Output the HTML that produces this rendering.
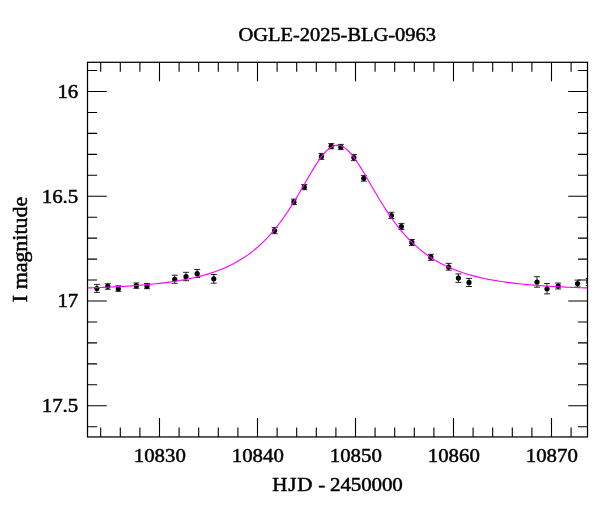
<!DOCTYPE html>
<html lang="en"><head><meta charset="utf-8"><title>OGLE-2025-BLG-0963</title>
<style>html,body{margin:0;padding:0;background:#fff;}body{width:600px;height:512px;overflow:hidden;}svg{display:block;}text{font-family:"Liberation Serif","DejaVu Serif",serif;font-size:20.3px;fill:#000;stroke:#000;stroke-width:0.5;}</style></head><body>
<svg width="600" height="512" viewBox="0 0 600 512">
<rect x="0" y="0" width="600" height="512" fill="#fff"/>
<defs><clipPath id="pc"><rect x="87.5" y="62.3" width="500" height="374.65"/></clipPath></defs>
<g clip-path="url(#pc)" stroke="#000" stroke-width="0.85" fill="#000"><path d="M96.90 284.40V292.40M93.90 284.40H99.90M93.90 292.40H99.90" fill="none"/><circle cx="96.90" cy="288.50" r="2.6" stroke="none"/><path d="M107.80 283.70V289.30M104.80 283.70H110.80M104.80 289.30H110.80" fill="none"/><circle cx="107.80" cy="286.30" r="2.6" stroke="none"/><path d="M118.30 285.80V291.30M115.30 285.80H121.30M115.30 291.30H121.30" fill="none"/><circle cx="118.30" cy="288.80" r="2.6" stroke="none"/><path d="M136.30 283.00V288.30M133.30 283.00H139.30M133.30 288.30H139.30" fill="none"/><circle cx="136.30" cy="285.70" r="2.6" stroke="none"/><path d="M147.00 283.50V288.70M144.00 283.50H150.00M144.00 288.70H150.00" fill="none"/><circle cx="147.00" cy="286.20" r="2.6" stroke="none"/><path d="M174.70 275.20V283.30M171.70 275.20H177.70M171.70 283.30H177.70" fill="none"/><circle cx="174.70" cy="279.30" r="2.6" stroke="none"/><path d="M186.00 272.30V280.70M183.00 272.30H189.00M183.00 280.70H189.00" fill="none"/><circle cx="186.00" cy="276.70" r="2.6" stroke="none"/><path d="M197.20 269.50V277.50M194.20 269.50H200.20M194.20 277.50H200.20" fill="none"/><circle cx="197.20" cy="273.70" r="2.6" stroke="none"/><path d="M213.80 274.50V283.20M210.80 274.50H216.80M210.80 283.20H216.80" fill="none"/><circle cx="213.80" cy="278.80" r="2.6" stroke="none"/><path d="M274.60 227.50V233.70M271.60 227.50H277.60M271.60 233.70H277.60" fill="none"/><circle cx="274.60" cy="230.60" r="2.6" stroke="none"/><path d="M293.90 199.10V204.60M290.90 199.10H296.90M290.90 204.60H296.90" fill="none"/><circle cx="293.90" cy="201.90" r="2.6" stroke="none"/><path d="M304.30 184.50V189.70M301.30 184.50H307.30M301.30 189.70H307.30" fill="none"/><circle cx="304.30" cy="187.00" r="2.6" stroke="none"/><path d="M321.40 153.40V159.40M318.40 153.40H324.40M318.40 159.40H324.40" fill="none"/><circle cx="321.40" cy="156.40" r="2.6" stroke="none"/><path d="M331.20 143.60V148.80M328.20 143.60H334.20M328.20 148.80H334.20" fill="none"/><circle cx="331.20" cy="146.20" r="2.6" stroke="none"/><path d="M340.80 144.40V149.60M337.80 144.40H343.80M337.80 149.60H343.80" fill="none"/><circle cx="340.80" cy="147.00" r="2.6" stroke="none"/><path d="M353.90 154.40V160.60M350.90 154.40H356.90M350.90 160.60H356.90" fill="none"/><circle cx="353.90" cy="157.50" r="2.6" stroke="none"/><path d="M363.80 175.40V181.20M360.80 175.40H366.80M360.80 181.20H366.80" fill="none"/><circle cx="363.80" cy="178.30" r="2.6" stroke="none"/><path d="M391.40 212.30V218.50M388.40 212.30H394.40M388.40 218.50H394.40" fill="none"/><circle cx="391.40" cy="215.50" r="2.6" stroke="none"/><path d="M401.40 223.40V229.50M398.40 223.40H404.40M398.40 229.50H404.40" fill="none"/><circle cx="401.40" cy="226.50" r="2.6" stroke="none"/><path d="M411.90 239.50V245.50M408.90 239.50H414.90M408.90 245.50H414.90" fill="none"/><circle cx="411.90" cy="242.40" r="2.6" stroke="none"/><path d="M430.90 254.30V260.30M427.90 254.30H433.90M427.90 260.30H433.90" fill="none"/><circle cx="430.90" cy="257.20" r="2.6" stroke="none"/><path d="M448.70 263.40V270.20M445.70 263.40H451.70M445.70 270.20H451.70" fill="none"/><circle cx="448.70" cy="267.00" r="2.6" stroke="none"/><path d="M458.40 273.90V282.40M455.40 273.90H461.40M455.40 282.40H461.40" fill="none"/><circle cx="458.40" cy="278.10" r="2.6" stroke="none"/><path d="M469.00 278.40V286.50M466.00 278.40H472.00M466.00 286.50H472.00" fill="none"/><circle cx="469.00" cy="282.40" r="2.6" stroke="none"/><path d="M537.00 276.70V287.20M534.00 276.70H540.00M534.00 287.20H540.00" fill="none"/><circle cx="537.00" cy="282.00" r="2.6" stroke="none"/><path d="M547.00 283.50V293.90M544.00 283.50H550.00M544.00 293.90H550.00" fill="none"/><circle cx="547.00" cy="288.75" r="2.6" stroke="none"/><path d="M558.20 283.10V289.00M555.20 283.10H561.20M555.20 289.00H561.20" fill="none"/><circle cx="558.20" cy="286.10" r="2.6" stroke="none"/><path d="M577.60 280.10V287.00M574.60 280.10H580.60M574.60 287.00H580.60" fill="none"/><circle cx="577.60" cy="283.50" r="2.6" stroke="none"/><path d="M588.70 278.50V285.50M585.70 278.50H591.70M585.70 285.50H591.70" fill="none"/><circle cx="588.70" cy="282.00" r="2.6" stroke="none"/></g>
<path d="M87.5 287.96 L89.5 287.89 L91.5 287.82 L93.5 287.75 L95.5 287.68 L97.5 287.60 L99.5 287.53 L101.5 287.45 L103.5 287.36 L105.5 287.28 L107.5 287.19 L109.5 287.10 L111.5 287.00 L113.5 286.91 L115.5 286.80 L117.5 286.70 L119.5 286.59 L121.5 286.48 L123.5 286.36 L125.5 286.24 L127.5 286.11 L129.5 285.99 L131.5 285.85 L133.5 285.71 L135.5 285.57 L137.5 285.42 L139.5 285.26 L141.5 285.10 L143.5 284.94 L145.5 284.76 L147.5 284.58 L149.5 284.40 L151.5 284.20 L153.5 284.00 L155.5 283.79 L157.5 283.58 L159.5 283.35 L161.5 283.12 L163.5 282.87 L165.5 282.62 L167.5 282.36 L169.5 282.09 L171.5 281.80 L173.5 281.51 L175.5 281.20 L177.5 280.88 L179.5 280.55 L181.5 280.20 L183.5 279.84 L185.5 279.46 L187.5 279.07 L189.5 278.67 L191.5 278.24 L193.5 277.80 L195.5 277.34 L197.5 276.86 L199.5 276.36 L201.5 275.84 L203.5 275.30 L205.5 274.73 L207.5 274.14 L209.5 273.52 L211.5 272.88 L213.5 272.21 L215.5 271.51 L217.5 270.78 L219.5 270.02 L221.5 269.23 L223.5 268.40 L225.5 267.53 L227.5 266.63 L229.5 265.69 L231.5 264.71 L233.5 263.68 L235.5 262.61 L237.5 261.49 L239.5 260.32 L241.5 259.10 L243.5 257.83 L245.5 256.51 L247.5 255.12 L249.5 253.68 L251.5 252.17 L253.5 250.60 L255.5 248.96 L257.5 247.26 L259.5 245.48 L261.5 243.62 L263.5 241.70 L265.5 239.69 L267.5 237.60 L269.5 235.43 L271.5 233.17 L273.5 230.83 L275.5 228.40 L277.5 225.88 L279.5 223.27 L281.5 220.57 L283.5 217.78 L285.5 214.91 L287.5 211.94 L289.5 208.89 L291.5 205.77 L293.5 202.56 L295.5 199.29 L297.5 195.95 L299.5 192.57 L301.5 189.14 L303.5 185.68 L305.5 182.21 L307.5 178.74 L309.5 175.30 L311.5 171.91 L313.5 168.59 L315.5 165.37 L317.5 162.29 L319.5 159.36 L321.5 156.62 L323.5 154.11 L325.5 151.85 L327.5 149.89 L329.5 148.24 L331.5 146.93 L333.5 145.99 L335.5 145.42 L337.5 145.24 L339.5 145.45 L341.5 146.05 L343.5 147.02 L345.5 148.36 L347.5 150.03 L349.5 152.02 L351.5 154.30 L353.5 156.83 L355.5 159.58 L357.5 162.53 L359.5 165.63 L361.5 168.86 L363.5 172.18 L365.5 175.58 L367.5 179.02 L369.5 182.49 L371.5 185.96 L373.5 189.41 L375.5 192.84 L377.5 196.22 L379.5 199.55 L381.5 202.82 L383.5 206.02 L385.5 209.14 L387.5 212.18 L389.5 215.14 L391.5 218.01 L393.5 220.79 L395.5 223.48 L397.5 226.08 L399.5 228.60 L401.5 231.02 L403.5 233.36 L405.5 235.60 L407.5 237.77 L409.5 239.85 L411.5 241.85 L413.5 243.78 L415.5 245.62 L417.5 247.39 L419.5 249.10 L421.5 250.73 L423.5 252.29 L425.5 253.79 L427.5 255.23 L429.5 256.61 L431.5 257.94 L433.5 259.20 L435.5 260.42 L437.5 261.58 L439.5 262.69 L441.5 263.76 L443.5 264.79 L445.5 265.77 L447.5 266.70 L449.5 267.60 L451.5 268.47 L453.5 269.29 L455.5 270.08 L457.5 270.84 L459.5 271.57 L461.5 272.27 L463.5 272.93 L465.5 273.57 L467.5 274.19 L469.5 274.78 L471.5 275.34 L473.5 275.88 L475.5 276.40 L477.5 276.90 L479.5 277.38 L481.5 277.84 L483.5 278.28 L485.5 278.70 L487.5 279.11 L489.5 279.49 L491.5 279.87 L493.5 280.23 L495.5 280.57 L497.5 280.90 L499.5 281.22 L501.5 281.53 L503.5 281.82 L505.5 282.11 L507.5 282.38 L509.5 282.64 L511.5 282.89 L513.5 283.14 L515.5 283.37 L517.5 283.59 L519.5 283.81 L521.5 284.02 L523.5 284.22 L525.5 284.41 L527.5 284.60 L529.5 284.78 L531.5 284.95 L533.5 285.12 L535.5 285.28 L537.5 285.43 L539.5 285.58 L541.5 285.72 L543.5 285.86 L545.5 286.00 L547.5 286.12 L549.5 286.25 L551.5 286.37 L553.5 286.49 L555.5 286.60 L557.5 286.71 L559.5 286.81 L561.5 286.91 L563.5 287.01 L565.5 287.11 L567.5 287.20 L569.5 287.29 L571.5 287.37 L573.5 287.45 L575.5 287.53 L577.5 287.61 L579.5 287.69 L581.5 287.76 L583.5 287.83 L585.5 287.90 L587.5 287.96" fill="none" stroke="#ff00ff" stroke-width="1.12" stroke-linejoin="round"/>
<path d="M100.70 436.95v-9.50M100.70 62.30v9.50M120.30 436.95v-9.50M120.30 62.30v9.50M139.90 436.95v-9.50M139.90 62.30v9.50M159.50 436.95v-18.95M159.50 62.30v18.95M179.10 436.95v-9.50M179.10 62.30v9.50M198.70 436.95v-9.50M198.70 62.30v9.50M218.30 436.95v-9.50M218.30 62.30v9.50M237.90 436.95v-9.50M237.90 62.30v9.50M257.50 436.95v-18.95M257.50 62.30v18.95M277.10 436.95v-9.50M277.10 62.30v9.50M296.70 436.95v-9.50M296.70 62.30v9.50M316.30 436.95v-9.50M316.30 62.30v9.50M335.90 436.95v-9.50M335.90 62.30v9.50M355.50 436.95v-18.95M355.50 62.30v18.95M375.10 436.95v-9.50M375.10 62.30v9.50M394.70 436.95v-9.50M394.70 62.30v9.50M414.30 436.95v-9.50M414.30 62.30v9.50M433.90 436.95v-9.50M433.90 62.30v9.50M453.50 436.95v-18.95M453.50 62.30v18.95M473.10 436.95v-9.50M473.10 62.30v9.50M492.70 436.95v-9.50M492.70 62.30v9.50M512.30 436.95v-9.50M512.30 62.30v9.50M531.90 436.95v-9.50M531.90 62.30v9.50M551.50 436.95v-18.95M551.50 62.30v18.95M571.10 436.95v-9.50M571.10 62.30v9.50M87.50 70.55h9.60M587.50 70.55h-9.60M87.50 91.50h19.30M587.50 91.50h-19.30M87.50 112.45h9.60M587.50 112.45h-9.60M87.50 133.40h9.60M587.50 133.40h-9.60M87.50 154.35h9.60M587.50 154.35h-9.60M87.50 175.30h9.60M587.50 175.30h-9.60M87.50 196.25h19.30M587.50 196.25h-19.30M87.50 217.20h9.60M587.50 217.20h-9.60M87.50 238.15h9.60M587.50 238.15h-9.60M87.50 259.10h9.60M587.50 259.10h-9.60M87.50 280.05h9.60M587.50 280.05h-9.60M87.50 301.00h19.30M587.50 301.00h-19.30M87.50 321.95h9.60M587.50 321.95h-9.60M87.50 342.90h9.60M587.50 342.90h-9.60M87.50 363.85h9.60M587.50 363.85h-9.60M87.50 384.80h9.60M587.50 384.80h-9.60M87.50 405.75h19.30M587.50 405.75h-19.30M87.50 426.70h9.60M587.50 426.70h-9.60" fill="none" stroke="#000" stroke-width="1.1"/>
<rect x="87.5" y="62.3" width="500" height="374.65" fill="none" stroke="#000" stroke-width="1.25"/>
<text transform="translate(337.20 40.70) scale(1.0070 0.9550)" text-anchor="middle">OGLE-2025-BLG-0963</text>
<text transform="translate(78.30 97.85) scale(1.0300 0.9300)" text-anchor="end">16</text>
<text transform="translate(78.30 202.60) scale(1.0300 0.9300)" text-anchor="end">16.5</text>
<text transform="translate(78.30 307.35) scale(1.0300 0.9300)" text-anchor="end">17</text>
<text transform="translate(78.30 412.10) scale(1.0300 0.9300)" text-anchor="end">17.5</text>
<text transform="translate(159.80 462.10) scale(1.0270 0.9300)" text-anchor="middle">10830</text>
<text transform="translate(257.80 462.10) scale(1.0270 0.9300)" text-anchor="middle">10840</text>
<text transform="translate(355.80 462.10) scale(1.0270 0.9300)" text-anchor="middle">10850</text>
<text transform="translate(453.80 462.10) scale(1.0270 0.9300)" text-anchor="middle">10860</text>
<text transform="translate(551.80 462.10) scale(1.0270 0.9300)" text-anchor="middle">10870</text>
<text transform="translate(337.45 491.10) scale(1.0340 0.9550)" text-anchor="middle"><tspan letter-spacing="0.9">HJD</tspan><tspan dx="-0.3"> - </tspan><tspan dx="-0.5" letter-spacing="-0.1">2450000</tspan></text>
<text transform="translate(26.70 249.50) rotate(-90) scale(1.0800 1.0200)" text-anchor="middle">I magnitude</text>
</svg></body></html>
